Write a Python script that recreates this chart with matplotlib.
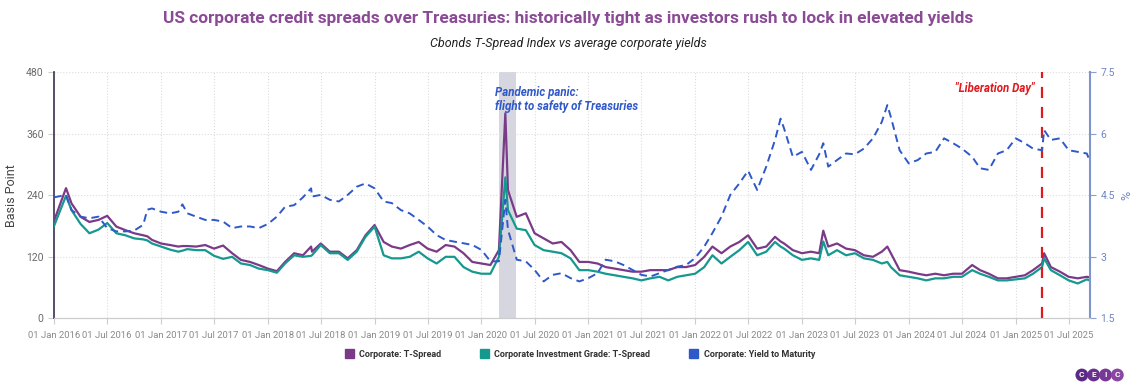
import matplotlib
matplotlib.use("Agg")
import matplotlib.pyplot as plt
import matplotlib.dates as mdates
from matplotlib.patches import Patch
import pandas as pd

plt.rcParams['font.family'] = ['Roboto', 'DejaVu Sans']

# monthly readings plus a few spike dates
dates = [
    "2016-01-01", "2016-02-11", "2016-03-01", "2016-04-01", "2016-05-01", "2016-06-01",
    "2016-07-01", "2016-08-01", "2016-09-01", "2016-10-01", "2016-11-01", "2016-11-15", "2016-12-01",
    "2017-01-01", "2017-02-01", "2017-03-01", "2017-03-15", "2017-04-01", "2017-05-01", "2017-06-01",
    "2017-07-01", "2017-08-01", "2017-09-01", "2017-10-01", "2017-11-01", "2017-12-01",
    "2018-01-01", "2018-02-01", "2018-03-01", "2018-04-01", "2018-05-01", "2018-05-29", "2018-06-01",
    "2018-07-01", "2018-08-01", "2018-09-01", "2018-10-01", "2018-11-01", "2018-12-01",
    "2019-01-01", "2019-02-01", "2019-03-01", "2019-04-01", "2019-05-01", "2019-06-01",
    "2019-07-01", "2019-08-01", "2019-09-01", "2019-10-01", "2019-11-01", "2019-12-01",
    "2020-01-01", "2020-02-01", "2020-03-01", "2020-03-23", "2020-04-01", "2020-05-01", "2020-06-01",
    "2020-07-01", "2020-08-01", "2020-09-01", "2020-10-01", "2020-11-01", "2020-12-01",
    "2021-01-01", "2021-02-01", "2021-03-01", "2021-04-01", "2021-05-01", "2021-06-01",
    "2021-07-01", "2021-08-01", "2021-09-01", "2021-10-01", "2021-11-01", "2021-12-01",
    "2022-01-01", "2022-02-01", "2022-03-01", "2022-04-01", "2022-05-01", "2022-06-01",
    "2022-07-01", "2022-08-01", "2022-09-01", "2022-10-01", "2022-10-20", "2022-11-01", "2022-12-01",
    "2023-01-01", "2023-02-01", "2023-03-01", "2023-03-15", "2023-04-01", "2023-05-01", "2023-06-01",
    "2023-07-01", "2023-08-01", "2023-09-01", "2023-10-01", "2023-10-20", "2023-11-01", "2023-12-01",
    "2024-01-01", "2024-02-01", "2024-03-01", "2024-04-01", "2024-05-01", "2024-06-01",
    "2024-07-01", "2024-08-05", "2024-09-01", "2024-10-01", "2024-11-01", "2024-12-01",
    "2025-01-01", "2025-02-01", "2025-03-01", "2025-04-01", "2025-04-08", "2025-05-01", "2025-06-01",
    "2025-07-01", "2025-08-01", "2025-09-01", "2025-09-10",
]

corp_spread = [
    190, 254, 224, 198, 188, 192, 200, 179, 172, 166, 162, 160, 153,
    146, 143, 140, 141, 141, 140, 143, 136, 142, 127, 114, 110, 104,
    97, 92, 110, 127, 123, 140, 130, 146, 130, 130, 117, 133, 162,
    182, 149, 140, 136, 143, 149, 136, 130, 143, 140, 127, 110,
    107, 104, 133, 400, 250, 198, 205, 166, 156, 146, 149, 133, 110,
    110, 107, 100, 97, 94, 91, 91, 94, 94, 94, 100, 100,
    104, 120, 140, 127, 140, 149, 162, 136, 140, 159, 150, 146, 133,
    127, 130, 127, 171, 140, 146, 136, 133, 123, 120, 130, 140, 127, 94,
    91, 87, 84, 87, 84, 87, 87, 104, 94, 87, 78, 78,
    81, 84, 94, 107, 127, 100, 91, 81, 78, 81, 80,
]

ig_spread = [
    180, 239, 211, 184, 166, 173, 186, 166, 162, 156, 154, 152, 146,
    140, 134, 130, 132, 135, 133, 133, 122, 116, 120, 107, 104, 97,
    94, 89, 107, 123, 120, 122, 123, 143, 127, 127, 114, 130, 159,
    179, 123, 117, 117, 120, 130, 117, 107, 120, 120, 100, 91,
    87, 87, 120, 275, 211, 175, 172, 143, 133, 130, 127, 117, 94,
    94, 91, 87, 84, 81, 78, 74, 78, 81, 74, 81, 84,
    87, 100, 123, 107, 120, 133, 149, 123, 130, 149, 140, 136, 123,
    114, 117, 114, 150, 123, 133, 123, 127, 117, 114, 107, 110, 100, 84,
    81, 78, 74, 78, 78, 81, 81, 94, 87, 81, 74, 74,
    76, 78, 87, 100, 117, 94, 84, 74, 68, 76, 74,
]

ytm = [
    4.45, 4.51, 4.14, 3.98, 3.94, 3.98, 3.70, 3.62, 3.62, 3.64, 3.78, 4.15, 4.18,
    4.10, 4.06, 4.10, 4.28, 4.06, 3.98, 3.90, 3.90, 3.86, 3.70, 3.74, 3.74, 3.70,
    3.80, 3.98, 4.22, 4.26, 4.45, 4.67, 4.47, 4.51, 4.39, 4.35, 4.51, 4.71, 4.79,
    4.67, 4.35, 4.31, 4.14, 4.06, 3.90, 3.74, 3.53, 3.41, 3.37, 3.33, 3.29,
    3.17, 2.89, 2.89, 4.39, 3.66, 2.93, 2.89, 2.68, 2.40, 2.56, 2.60, 2.48, 2.40,
    2.48, 2.60, 2.93, 2.89, 2.80, 2.68, 2.56, 2.52, 2.60, 2.68, 2.76, 2.80,
    2.97, 3.25, 3.58, 3.98, 4.51, 4.79, 5.10, 4.63, 5.20, 5.85, 6.37, 6.13, 5.44,
    5.56, 5.12, 5.50, 5.77, 5.20, 5.36, 5.52, 5.50, 5.64, 5.89, 6.29, 6.70, 6.41, 5.60,
    5.28, 5.36, 5.52, 5.56, 5.89, 5.77, 5.64, 5.44, 5.16, 5.12, 5.52, 5.60,
    5.89, 5.77, 5.64, 5.60, 6.09, 5.85, 5.89, 5.60, 5.56, 5.52, 5.36,
]

left_ticks = [0, 120, 240, 360, 480]
right_ticks = [1.5, 3, 4.5, 6, 7.5]
labels = ["Corporate: T-Spread", "Corporate Investment Grade: T-Spread", "Corporate: Yield to Maturity"]
colors = ["#7b3a88", "#15998f", "#2f58c9"]

x = pd.to_datetime(dates)

fig = plt.figure(figsize=(11.37, 3.89), dpi=100)
ax = fig.add_axes([0.0475, 0.1817, 0.9112, 0.6324])
ax2 = ax.twinx()

ax.axvspan(pd.Timestamp("2020-03-01"), pd.Timestamp("2020-04-30"), color="#d6d6e0", lw=0, zorder=0)
ax.plot(x, corp_spread, color=colors[0], lw=1.6, zorder=3)
ax.plot(x, ig_spread, color=colors[1], lw=1.6, zorder=3)
ax2.plot(x, ytm, color=colors[2], lw=1.4, ls=(0, (4, 2.5)), zorder=2)
ax.axvline(pd.Timestamp("2025-04-02"), color="#e0191e", lw=1.6, ls=(0, (5, 4)), zorder=4)

ax.set_xlim(pd.Timestamp("2016-01-01"), pd.Timestamp("2025-09-12"))
ax.set_ylim(0, 480)
ax.set_yticks(left_ticks)
ax2.set_ylim(1.5, 7.5)
ax2.set_yticks(right_ticks)
ax2.set_yticklabels(["%g" % t for t in right_ticks])

xt = pd.date_range("2016-01-01", "2025-07-01", freq="6MS")
ax.set_xticks(xt)
ax.xaxis.set_major_formatter(mdates.DateFormatter("%d %b %Y"))

ax.grid(True, color="#dcdcdc", ls=":", lw=0.8)
ax.set_axisbelow(True)
ax.tick_params(axis="x", colors="#cccccc", labelcolor="#8a8a8a", labelsize=6.8, length=4, pad=5)
ax.tick_params(axis="y", colors="#cccccc", labelcolor="#6a6a6a", labelsize=7.5, length=4)
ax2.tick_params(axis="y", colors="#8aa0d4", labelcolor="#6f86bf", labelsize=7.5, length=4)

for a in (ax, ax2):
    a.spines["top"].set_visible(False)
    a.spines["bottom"].set_color("#cccccc")
ax.spines["left"].set_color("#3e3050")
ax.spines["left"].set_linewidth(1.2)
ax.spines["right"].set_visible(False)
ax2.spines["left"].set_visible(False)
ax2.spines["right"].set_color("#7d95cc")
ax2.spines["right"].set_linewidth(1.5)

ax.set_ylabel("Basis Point", fontsize=9, color="#444444", labelpad=6)
ax2.set_ylabel("%", fontsize=9, color="#6f86bf", labelpad=4)

ax.text(pd.Timestamp("2020-02-18"), 0.945, "Pandemic panic:\nflight to safety of Treasuries",
        transform=ax.get_xaxis_transform(), color="#2f58c9", fontsize=8.3,
        fontweight="bold", style="italic", va="top", ha="left", linespacing=1.1)
ax.text(pd.Timestamp("2025-03-05"), 0.935, '"Liberation Day"',
        transform=ax.get_xaxis_transform(), color="#e0191e", fontsize=8.3,
        fontweight="bold", style="italic", va="center", ha="right")

fig.text(0.5, 0.953, "US corporate credit spreads over Treasuries: historically tight as investors rush to lock in elevated yields",
         ha="center", va="center", fontsize=12.4, fontweight="bold", color="#8b4a96")
fig.text(0.5, 0.887, "Cbonds T-Spread Index vs average corporate yields",
         ha="center", va="center", fontsize=9, style="italic", color="#222222")

handles = [Patch(facecolor=c, edgecolor=c) for c in colors]
fig.legend(handles, labels, loc="center", bbox_to_anchor=(0.51, 0.09), ncol=3, frameon=False,
           handlelength=1.0, handleheight=1.0, columnspacing=4.3, handletextpad=0.6,
           prop={"size": 6.5, "weight": "bold"}, labelcolor="#333333")

logo_cols = ["#5a2a84", "#69308e", "#783896", "#8a46a2"]
for i, (ch, c) in enumerate(zip("CEIC", logo_cols)):
    fig.text(0.9515 + i * 0.0104, 0.036, ch, ha="center", va="center", fontsize=6,
             fontweight="bold", color="white",
             bbox=dict(boxstyle="circle,pad=0.35", fc=c, ec="none"))

fig.savefig("out.png", dpi=100)
